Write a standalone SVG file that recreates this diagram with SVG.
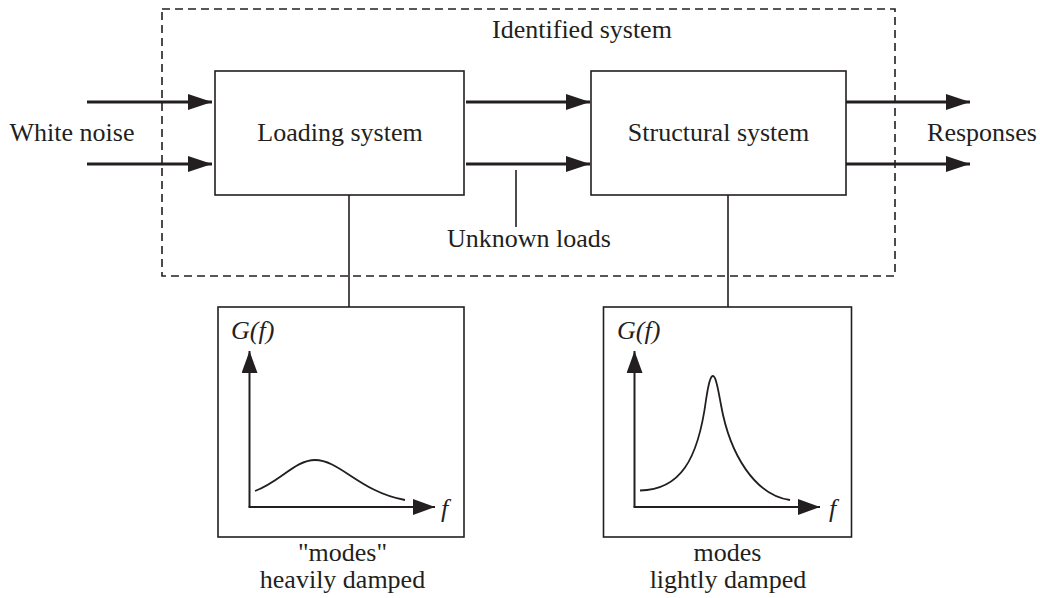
<svg xmlns="http://www.w3.org/2000/svg" width="1040" height="598" viewBox="0 0 1040 598">
<defs>
<marker id="ah" markerWidth="24" markerHeight="16" refX="24" refY="8" orient="auto" markerUnits="userSpaceOnUse">
<path d="M0,0 L24,8 L0,16 Z" fill="#231f20"/>
</marker>
<marker id="sah" markerWidth="22" markerHeight="16" refX="22" refY="8" orient="auto" markerUnits="userSpaceOnUse">
<path d="M0,0 L22,8 L0,16 Z" fill="#231f20"/>
</marker>
</defs>
<style>
.t{font-family:"Liberation Serif","DejaVu Serif",serif;font-size:26px;fill:#231f20}
.it{font-style:italic}
.box{fill:none;stroke:#231f20;stroke-width:1.6}
.arr{stroke:#231f20;stroke-width:3;fill:none;marker-end:url(#ah)}
.ln{stroke:#231f20;stroke-width:1.6;fill:none}
.ax{stroke:#231f20;stroke-width:2;fill:none;marker-end:url(#sah)}
.crv{stroke:#231f20;stroke-width:1.8;fill:none}
</style>
<rect width="1040" height="598" fill="#fff"/>
<g id="identified-system">
<rect x="162" y="9" width="733" height="267" fill="none" stroke="#231f20" stroke-width="1.6" stroke-dasharray="8,5"/>
<text class="t" x="582" y="38" text-anchor="middle">Identified system</text>
</g>
<g id="loading-system">
<rect class="box" x="215" y="71" width="249" height="124"/>
<text class="t" x="340" y="141" text-anchor="middle">Loading system</text>
</g>
<g id="structural-system">
<rect class="box" x="591" y="71" width="255" height="124"/>
<text class="t" x="718.5" y="141" text-anchor="middle">Structural system</text>
</g>
<g id="white-noise">
<text class="t" x="72" y="141" text-anchor="middle">White noise</text>
</g>
<g id="responses">
<text class="t" x="982" y="141" text-anchor="middle">Responses</text>
</g>
<g id="unknown-loads">
<text class="t" x="529" y="247" text-anchor="middle">Unknown loads</text>
</g>
<g id="loading-spectrum">
<rect class="box" x="218" y="307" width="246" height="230"/>
<text class="t it" x="231" y="339">G(f)</text>
<line class="ax" x1="249.5" y1="507" x2="249.5" y2="351"/>
<line class="ax" x1="248.5" y1="507" x2="435" y2="507"/>
<path class="crv" d="M255,491 C280,482 295,460 315,460 C340,460 360,492 405,500"/>
<text class="t it" x="441" y="517">f</text>
<text class="t" x="342.5" y="561" text-anchor="middle">"modes"</text>
<text class="t" x="342.5" y="588" text-anchor="middle">heavily damped</text>
</g>
<g id="structural-spectrum">
<rect class="box" x="603.5" y="307" width="248" height="230"/>
<text class="t it" x="617" y="339">G(f)</text>
<line class="ax" x1="634.5" y1="507" x2="634.5" y2="351"/>
<line class="ax" x1="633.5" y1="507" x2="820" y2="507"/>
<path class="crv" d="M640,490.5 C680,490 698,460 706,400 C709,380 711,376 713,376 C715,376 717,382 721,405 C730,455 755,495 790,500"/>
<text class="t it" x="829" y="517">f</text>
<text class="t" x="727.5" y="561" text-anchor="middle">modes</text>
<text class="t" x="728" y="588" text-anchor="middle">lightly damped</text>
</g>
<g id="connectors">
<line class="arr" x1="87" y1="102" x2="212" y2="102"/>
<line class="arr" x1="87" y1="164" x2="212" y2="164"/>
<line class="arr" x1="466" y1="102" x2="590" y2="102"/>
<line class="arr" x1="466" y1="164" x2="590" y2="164"/>
<line class="arr" x1="846" y1="102" x2="970" y2="102"/>
<line class="arr" x1="846" y1="164" x2="970" y2="164"/>
<line class="ln" x1="516" y1="170" x2="516" y2="227"/>
<line class="ln" x1="349" y1="195" x2="349" y2="307"/>
<line class="ln" x1="728" y1="195" x2="728" y2="307"/>
</g>
</svg>
